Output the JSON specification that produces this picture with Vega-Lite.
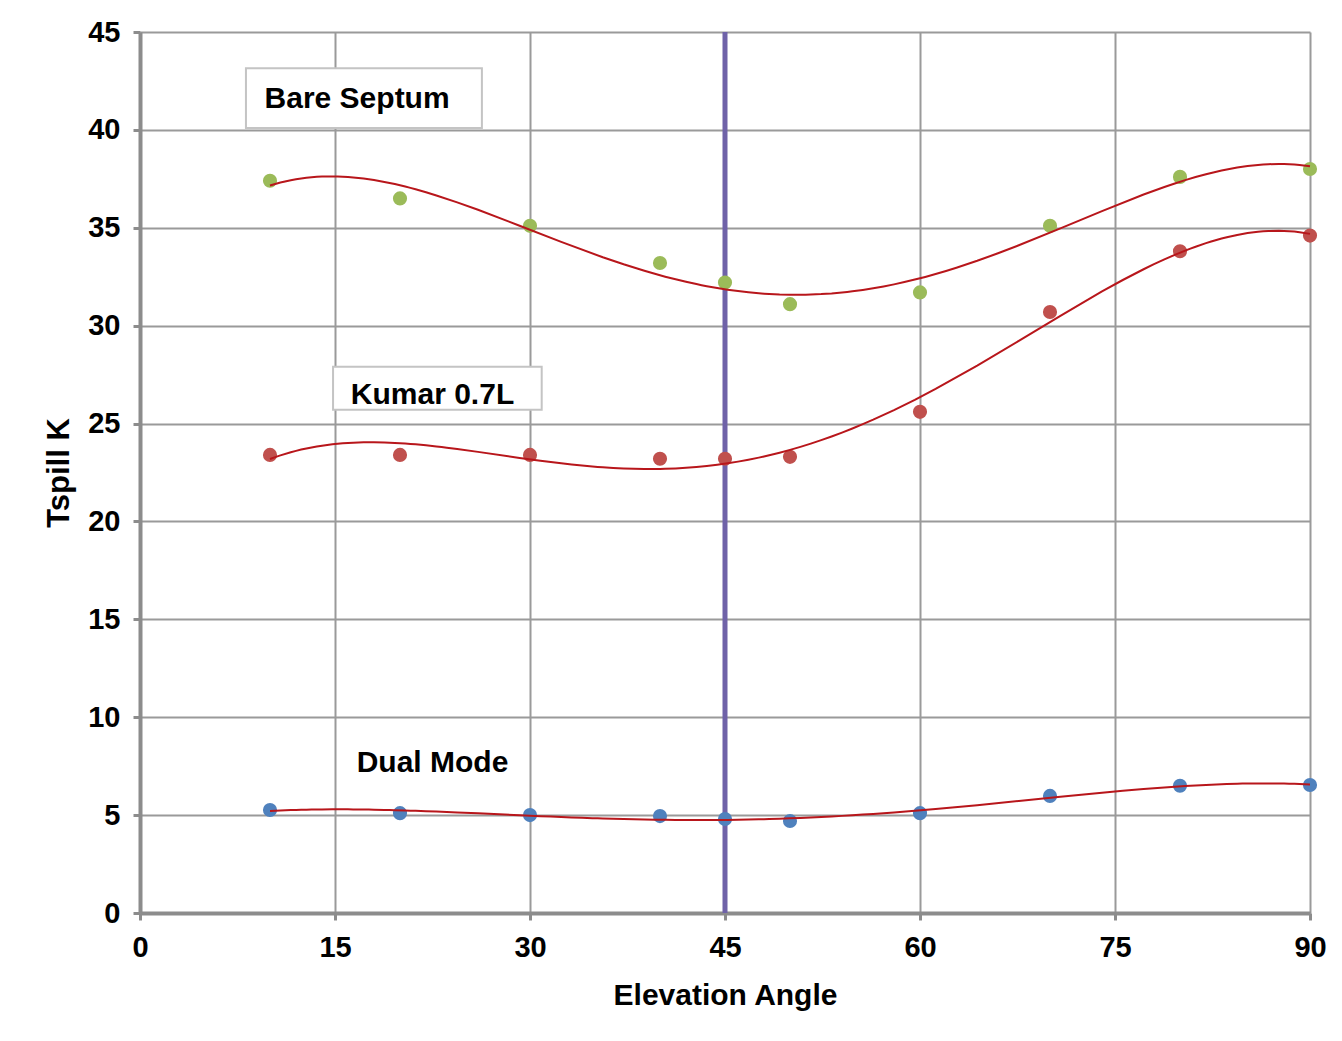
{
  "$schema": "https://vega.github.io/schema/vega-lite/v6.json",
  "width": 1170,
  "height": 881,
  "autosize": {"type": "none"},
  "padding": {"left": 140, "top": 32, "right": 32, "bottom": 128},
  "background": "white",
  "config": {
    "view": {"stroke": null},
    "font": "Liberation Sans",
    "axis": {
      "labelFont": "Liberation Sans",
      "labelFontWeight": "bold",
      "labelFontSize": 29,
      "labelColor": "#000000",
      "labelFlush": false,
      "titleFont": "Liberation Sans",
      "titleFontWeight": "bold",
      "titleFontSize": 30,
      "titleColor": "#000000",
      "gridColor": "#9a9a9a",
      "gridWidth": 2,
      "gridOpacity": 1,
      "domainColor": "#8c8c8c",
      "domainWidth": 4,
      "tickColor": "#8c8c8c",
      "tickWidth": 3,
      "tickSize": 7
    }
  },
  "datasets": {
    "pts": [
      {"angle": 10, "tspill": 37.4, "series": "Bare Septum"},
      {"angle": 20, "tspill": 36.5, "series": "Bare Septum"},
      {"angle": 30, "tspill": 35.1, "series": "Bare Septum"},
      {"angle": 40, "tspill": 33.2, "series": "Bare Septum"},
      {"angle": 45, "tspill": 32.2, "series": "Bare Septum"},
      {"angle": 50, "tspill": 31.1, "series": "Bare Septum"},
      {"angle": 60, "tspill": 31.7, "series": "Bare Septum"},
      {"angle": 70, "tspill": 35.1, "series": "Bare Septum"},
      {"angle": 80, "tspill": 37.6, "series": "Bare Septum"},
      {"angle": 90, "tspill": 38.0, "series": "Bare Septum"},
      {"angle": 10, "tspill": 23.4, "series": "Kumar 0.7L"},
      {"angle": 20, "tspill": 23.4, "series": "Kumar 0.7L"},
      {"angle": 30, "tspill": 23.4, "series": "Kumar 0.7L"},
      {"angle": 40, "tspill": 23.2, "series": "Kumar 0.7L"},
      {"angle": 45, "tspill": 23.2, "series": "Kumar 0.7L"},
      {"angle": 50, "tspill": 23.3, "series": "Kumar 0.7L"},
      {"angle": 60, "tspill": 25.6, "series": "Kumar 0.7L"},
      {"angle": 70, "tspill": 30.7, "series": "Kumar 0.7L"},
      {"angle": 80, "tspill": 33.8, "series": "Kumar 0.7L"},
      {"angle": 90, "tspill": 34.6, "series": "Kumar 0.7L"},
      {"angle": 10, "tspill": 5.26, "series": "Dual Mode"},
      {"angle": 20, "tspill": 5.1, "series": "Dual Mode"},
      {"angle": 30, "tspill": 5.0, "series": "Dual Mode"},
      {"angle": 40, "tspill": 4.95, "series": "Dual Mode"},
      {"angle": 45, "tspill": 4.8, "series": "Dual Mode"},
      {"angle": 50, "tspill": 4.7, "series": "Dual Mode"},
      {"angle": 60, "tspill": 5.1, "series": "Dual Mode"},
      {"angle": 70, "tspill": 5.98, "series": "Dual Mode"},
      {"angle": 80, "tspill": 6.5, "series": "Dual Mode"},
      {"angle": 90, "tspill": 6.54, "series": "Dual Mode"}
    ],
    "marker": [{"angle": 45}],
    "boxes": [
      {"x1": 8.15, "x2": 26.3, "y1": 40.1, "y2": 43.15},
      {"x1": 14.85, "x2": 30.9, "y1": 25.7, "y2": 27.9}
    ],
    "labels": [
      {"x": 16.7, "y": 41.6, "text": "Bare Septum"},
      {"x": 22.5, "y": 26.45, "text": "Kumar 0.7L"},
      {"x": 22.5, "y": 7.65, "text": "Dual Mode"}
    ]
  },
  "layer": [
    {
      "data": {"name": "boxes"},
      "mark": {"type": "rect", "fill": "white", "stroke": "#c4c4c4", "strokeWidth": 2},
      "encoding": {
        "x": {"field": "x1", "type": "quantitative", "scale": {"domain": [0, 90], "nice": false},
          "axis": {"values": [0, 15, 30, 45, 60, 75, 90], "title": "Elevation Angle", "labelPadding": 13, "titlePadding": 18}},
        "x2": {"field": "x2"},
        "y": {"field": "y1", "type": "quantitative", "scale": {"domain": [0, 45], "nice": false},
          "axis": {"values": [0, 5, 10, 15, 20, 25, 30, 35, 40, 45], "title": "Tspill K", "labelPadding": 13, "titlePadding": 12, "titleFontSize": 31}},
        "y2": {"field": "y2"}
      }
    },
    {
      "data": {"name": "marker"},
      "mark": {"type": "rule", "color": "#6f62a8", "strokeWidth": 5},
      "encoding": {"x": {"field": "angle", "type": "quantitative"}}
    },
    {
      "data": {"name": "pts"},
      "mark": {"type": "circle", "size": 200, "opacity": 1},
      "encoding": {
        "x": {"field": "angle", "type": "quantitative"},
        "y": {"field": "tspill", "type": "quantitative"},
        "color": {"field": "series", "type": "nominal",
          "scale": {"domain": ["Bare Septum", "Kumar 0.7L", "Dual Mode"], "range": ["#9bbb59", "#c0504d", "#4f81bd"]},
          "legend": null}
      }
    },
    {
      "data": {"name": "pts"},
      "transform": [
        {"regression": "tspill", "on": "angle", "groupby": ["series"], "method": "poly", "order": 4}
      ],
      "mark": {"type": "line", "color": "#b8161b", "strokeWidth": 2},
      "encoding": {
        "x": {"field": "angle", "type": "quantitative"},
        "y": {"field": "tspill", "type": "quantitative"},
        "detail": {"field": "series"}
      }
    },
    {
      "data": {"name": "labels"},
      "mark": {"type": "text", "font": "Liberation Sans", "fontWeight": "bold", "fontSize": 30, "color": "#000000", "align": "center", "baseline": "middle"},
      "encoding": {
        "x": {"field": "x", "type": "quantitative"},
        "y": {"field": "y", "type": "quantitative"},
        "text": {"field": "text"}
      }
    }
  ]
}
